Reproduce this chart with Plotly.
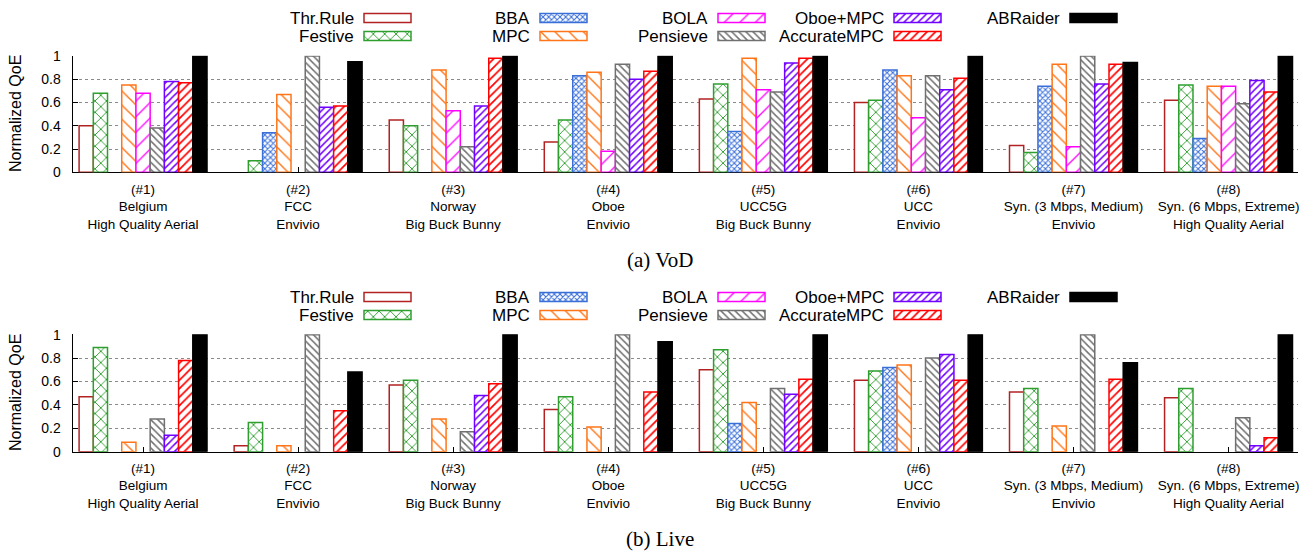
import plotly.graph_objects as go

W, H = 1313, 552

# ---------------- data ----------------
categories = [
    "(#1)<br>Belgium<br>High Quality Aerial",
    "(#2)<br>FCC<br>Envivio",
    "(#3)<br>Norway<br>Big Buck Bunny",
    "(#4)<br>Oboe<br>Envivio",
    "(#5)<br>UCC5G<br>Big Buck Bunny",
    "(#6)<br>UCC<br>Envivio",
    "(#7)<br>Syn. (3 Mbps, Medium)<br>Envivio",
    "(#8)<br>Syn. (6 Mbps, Extreme)<br>High Quality Aerial",
]
methods = ["Thr.Rule", "Festive", "BBA", "MPC", "BOLA", "Pensieve",
           "Oboe+MPC", "AccurateMPC", "ABRaider"]

vod_thr = [0.40, None, 0.45, 0.26, 0.63, 0.60, 0.23, 0.62]
vod_festive = [0.68, 0.10, 0.40, 0.45, 0.76, 0.62, 0.17, 0.75]
vod_bba = [None, 0.34, None, 0.83, 0.35, 0.88, 0.74, 0.29]
vod_mpc = [0.75, 0.67, 0.88, 0.86, 0.98, 0.83, 0.93, 0.74]
vod_bola = [0.68, None, 0.53, 0.18, 0.71, 0.47, 0.22, 0.74]
vod_pensieve = [0.38, 1.00, 0.22, 0.93, 0.69, 0.83, 1.00, 0.59]
vod_oboe = [0.78, 0.56, 0.57, 0.80, 0.94, 0.71, 0.76, 0.79]
vod_accurate = [0.77, 0.57, 0.98, 0.87, 0.98, 0.81, 0.93, 0.69]
vod_abraider = [1.00, 0.95, 1.00, 1.00, 1.00, 1.00, 0.945, 1.00]

live_thr = [0.47, 0.05, 0.57, 0.36, 0.70, 0.61, 0.51, 0.46]
live_festive = [0.89, 0.25, 0.61, 0.47, 0.87, 0.69, 0.54, 0.54]
live_bba = [None, None, None, None, 0.24, 0.72, None, None]
live_mpc = [0.08, 0.05, 0.28, 0.21, 0.42, 0.74, 0.22, None]
live_bola = [None, None, None, None, None, None, None, None]
live_pensieve = [0.28, 1.00, 0.17, 1.00, 0.54, 0.80, 1.00, 0.29]
live_oboe = [0.14, None, 0.48, None, 0.49, 0.83, None, 0.05]
live_accurate = [0.78, 0.35, 0.58, 0.51, 0.62, 0.61, 0.62, 0.12]
live_abraider = [1.00, 0.68, 1.00, 0.94, 1.00, 1.00, 0.76, 1.00]

y_ticks = [0, 0.2, 0.4, 0.6, 0.8, 1.0]
y_ticktext = ["0", "0.2", "0.4", "0.6", "0.8", "1"]

vod = [vod_thr, vod_festive, vod_bba, vod_mpc, vod_bola, vod_pensieve,
       vod_oboe, vod_accurate, vod_abraider]
live = [live_thr, live_festive, live_bba, live_mpc, live_bola, live_pensieve,
        live_oboe, live_accurate, live_abraider]

# ---------------- styles ----------------
colors = ["#b22222", "#2e9e2e", "#3a6fd8", "#ff7518", "#ff00ff", "#707070",
          "#7000ff", "#ff0000", "#000000"]
patterns = [None, ("x", 8, 0.22), ("x", 4, 0.45), ("\\", 10, 0.14),
            ("/", 11, 0.12), ("\\", 5, 0.3), ("/", 5, 0.3), ("/", 6, 0.28), "solid"]


def marker_for(i):
    c = colors[i]
    p = patterns[i]
    if p == "solid":
        return dict(color=c, line=dict(color=c, width=1.5))
    if p is None:
        return dict(color="white", line=dict(color=c, width=1.5))
    shape, size, sol = p
    return dict(color="white", line=dict(color=c, width=1.5),
                pattern=dict(shape=shape, size=size, solidity=sol,
                             fgcolor=c, bgcolor="white", fillmode="replace"))


fig = go.Figure()
xs = list(range(len(categories)))
for panel, (data, xa, ya) in enumerate([(vod, "x", "y"), (live, "x2", "y2")]):
    for i, m in enumerate(methods):
        fig.add_trace(go.Bar(x=xs, y=data[i], name=m, xaxis=xa, yaxis=ya,
                             marker=marker_for(i), showlegend=False,
                             hoverinfo="x+y+name"))

# ---------------- custom legends (pixel-space overlay axis) ----------------
leg_cols = [364, 540, 718, 894, 1070]
leg_rows_top = [18, 36]
leg_rows_bot = [297, 315]
box_w, box_h = 47, 9
leg_pos = [(0, 0), (0, 1), (1, 0), (1, 1), (2, 0), (2, 1), (3, 0), (3, 1), (4, 0)]

annotations = []
for rows in (leg_rows_top, leg_rows_bot):
    for i, m in enumerate(methods):
        col, row = leg_pos[i]
        bx = leg_cols[col]
        by = rows[row]
        fig.add_trace(go.Bar(orientation="h", y=[by], x=[box_w], base=[bx],
                             width=box_h, offset=-box_h / 2,
                             xaxis="x3", yaxis="y3", marker=marker_for(i),
                             showlegend=False, hoverinfo="skip"))
        annotations.append(dict(x=bx - 8, y=by, xref="x3", yref="y3",
                                text=m, showarrow=False, xanchor="right",
                                yanchor="middle",
                                font=dict(family="Liberation Sans", size=17,
                                          color="black")))

# y titles and captions
for yc in (114, 393):
    annotations.append(dict(x=15, y=yc, xref="x3", yref="y3",
                            text="Normalized QoE", textangle=-90,
                            showarrow=False, xanchor="center", yanchor="middle",
                            font=dict(family="Liberation Sans", size=16,
                                      color="black")))
for txt, yc in (("(a) VoD", 260), ("(b) Live", 539)):
    annotations.append(dict(x=660, y=yc, xref="x3", yref="y3", text=txt,
                            showarrow=False, xanchor="center", yanchor="middle",
                            font=dict(family="Liberation Serif", size=21,
                                      color="black")))

x_dom = [72.5 / W, 1298 / W]
x_rng = [-0.455, 7.448]
top_dom = [1 - 172.3 / H, 1 - 55.7 / H]
bot_dom = [1 - 451.7 / H, 1 - 334.3 / H]


def xaxis_cfg(anchor):
    return dict(domain=x_dom, range=x_rng, anchor=anchor, tickmode="array",
                tickvals=xs, ticktext=categories, ticks="inside", ticklen=5,
                tickcolor="black", showline=True, linecolor="black",
                linewidth=1, showgrid=False, zeroline=False, automargin=False,
                layer="below traces", ticklabelstandoff=4,
                tickfont=dict(family="Liberation Sans", size=13.5, color="black"))


def yaxis_cfg(anchor, dom):
    return dict(domain=dom, range=[0, 1.003], anchor=anchor, tickmode="array",
                tickvals=y_ticks, ticktext=y_ticktext, ticks="inside",
                ticklen=5, tickcolor="black", showline=True, linecolor="black",
                linewidth=1, showgrid=True, gridcolor="#8a8a8a", griddash="dot",
                gridwidth=1, zeroline=False, ticklabelstandoff=8, automargin=False,
                tickfont=dict(family="Liberation Sans", size=14, color="black"))


fig.update_layout(
    width=W, height=H, autosize=False,
    margin=dict(l=0, r=0, t=0, b=0, pad=0, autoexpand=False),
    paper_bgcolor="white", plot_bgcolor="rgba(0,0,0,0)",
    barmode="group", bargap=0.175, bargroupgap=0,
    showlegend=False,
    xaxis=xaxis_cfg("y"),
    yaxis=yaxis_cfg("x", top_dom),
    xaxis2=xaxis_cfg("y2"),
    yaxis2=yaxis_cfg("x2", bot_dom),
    xaxis3=dict(domain=[0, 1], range=[0, W], anchor="y3", visible=False,
                fixedrange=True, automargin=False),
    yaxis3=dict(domain=[0, 1], range=[H, 0], anchor="x3", visible=False,
                fixedrange=True, automargin=False),
    annotations=annotations,
    font=dict(family="Liberation Sans", color="black"),
)

fig.write_html(
    "out.html",
    config={"responsive": False, "displayModeBar": False},
    post_script="document.body.style.margin='0';"
                "document.documentElement.style.overflow='hidden';",
)
